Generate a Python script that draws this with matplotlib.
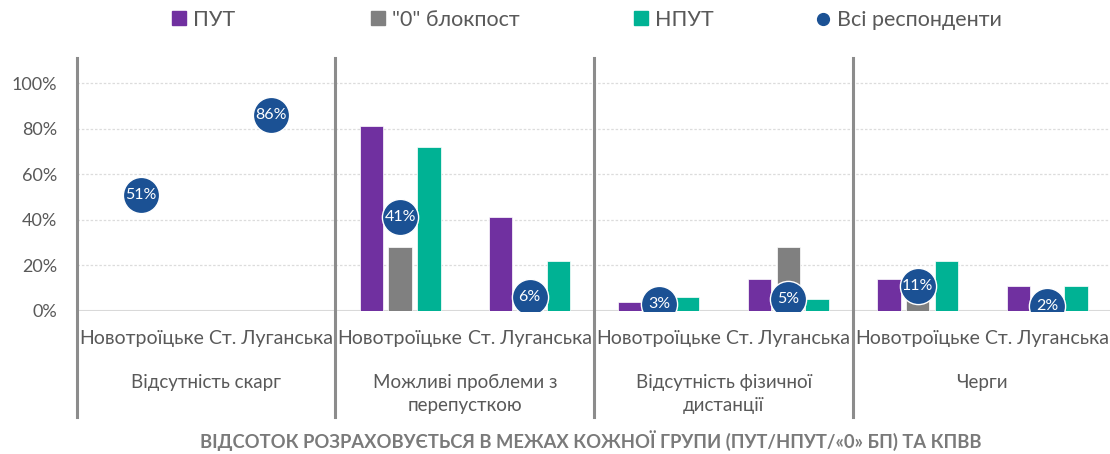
import numpy as np
import matplotlib
matplotlib.use("Agg")
import matplotlib.pyplot as plt
from matplotlib.patches import Patch
from matplotlib.lines import Line2D
from matplotlib.transforms import blended_transform_factory

# ---- data ----
categories = ["Новотроїцьке", "Ст. Луганська"] * 4
groups = ["Відсутність скарг", "Можливі проблеми з\nперепусткою",
          "Відсутність фізичної\nдистанції", "Черги"]
put = [np.nan, np.nan, 81, 41, 4, 14, 14, 11]
zero_bp = [np.nan, np.nan, 28, 0, 0, 28, 5, 0]
nput = [np.nan, np.nan, 72, 22, 6, 5, 22, 11]
all_resp = [51, 86, 41, 6, 3, 5, 11, 2]
series_names = ["ПУТ", "\"0\" блокпост", "НПУТ", "Всі респонденти"]
yticks = [0, 20, 40, 60, 80, 100]
title = "ВІДСОТОК РОЗРАХОВУЄТЬСЯ В МЕЖАХ КОЖНОЇ ГРУПИ (ПУТ/НПУТ/«0» БП) ТА КПВВ"

c_put = "#7030A0"
c_zero = "#808080"
c_nput = "#00B294"
c_all = "#1B5194"
txt = "#595959"

plt.rcParams["font.family"] = ["Lato", "DejaVu Sans"]

W, H = 1110, 454
fig = plt.figure(figsize=(W / 100, H / 100), dpi=100)
left_px, right_px, top_px, bot_px = 76.6, 1111.8, 58, 310.7
ax = fig.add_axes([left_px / W, 1 - bot_px / H, (right_px - left_px) / W, (bot_px - top_px) / H])

x = np.arange(len(categories))
bw = 0.18
off = 0.2226
ax.bar(x - off, put, bw, color=c_put, edgecolor="white", linewidth=0.5, zorder=2)
ax.bar(x, zero_bp, bw, color=c_zero, edgecolor="white", linewidth=0.5, zorder=2)
ax.bar(x + off, nput, bw, color=c_nput, edgecolor="white", linewidth=0.5, zorder=2)
ax.scatter(x, all_resp, s=680, color=c_all, edgecolor="white", linewidth=1.0, zorder=4)
for xi, v in zip(x, all_resp):
    ax.text(xi, v, f"{v}%", color="white", ha="center", va="center",
            fontsize=11.5, zorder=5)

ax.set_xlim(-0.5, len(categories) - 0.5)
ax.set_ylim(0, 111)
ax.set_yticks(yticks)
ax.set_yticklabels([f"{t}%" for t in yticks], fontsize=13, color=txt)
ax.tick_params(axis="y", length=0, pad=14)
ax.set_xticks(x)
ax.set_xticklabels(categories, fontsize=14, color=txt)
ax.tick_params(axis="x", length=0, pad=14)

for t in yticks[1:]:
    ax.axhline(t, color="#dcdcdc", linewidth=0.9, linestyle=(0, (2, 1.5)), zorder=0)
ax.axhline(0, color="#d9d9d9", linewidth=1.5, zorder=1)
for s in ax.spines.values():
    s.set_visible(False)

# group separators
ext = -(417 - bot_px) / (bot_px - top_px)
for gi in range(len(groups)):
    ax.axvline(gi * 2 - 0.5, ymin=ext, ymax=1, color="#8c8c8c", linewidth=2.2,
               clip_on=False, zorder=3)

trans = blended_transform_factory(ax.transData, ax.transAxes)
for gi, g in enumerate(groups):
    ax.text(gi * 2 + 0.5, -(374 - bot_px) / (bot_px - top_px), g, transform=trans,
            ha="center", va="top", fontsize=13.5, color=txt, linespacing=1.45)

fig.text(0.532, 1 - 441 / H, title, ha="center", va="center", fontsize=13.2,
         fontweight="bold", color="#7a7a7a")

# legend
handles = [Patch(color=c_put), Patch(color=c_zero), Patch(color=c_nput),
           Line2D([], [], marker="o", color=c_all, linestyle="none", markersize=8.5)]
xs = [172, 371, 634, 816]
for h, lab, xp in zip(handles, series_names, xs):
    fig.legend(handles=[h], labels=[lab], loc="center left",
               bbox_to_anchor=(xp / W, 1 - 20 / H), frameon=False, fontsize=15.5,
               borderpad=0, borderaxespad=0, handlelength=0.63, handleheight=0.63,
               handletextpad=0.35, labelcolor=txt)

fig.savefig("out.png", dpi=100)
